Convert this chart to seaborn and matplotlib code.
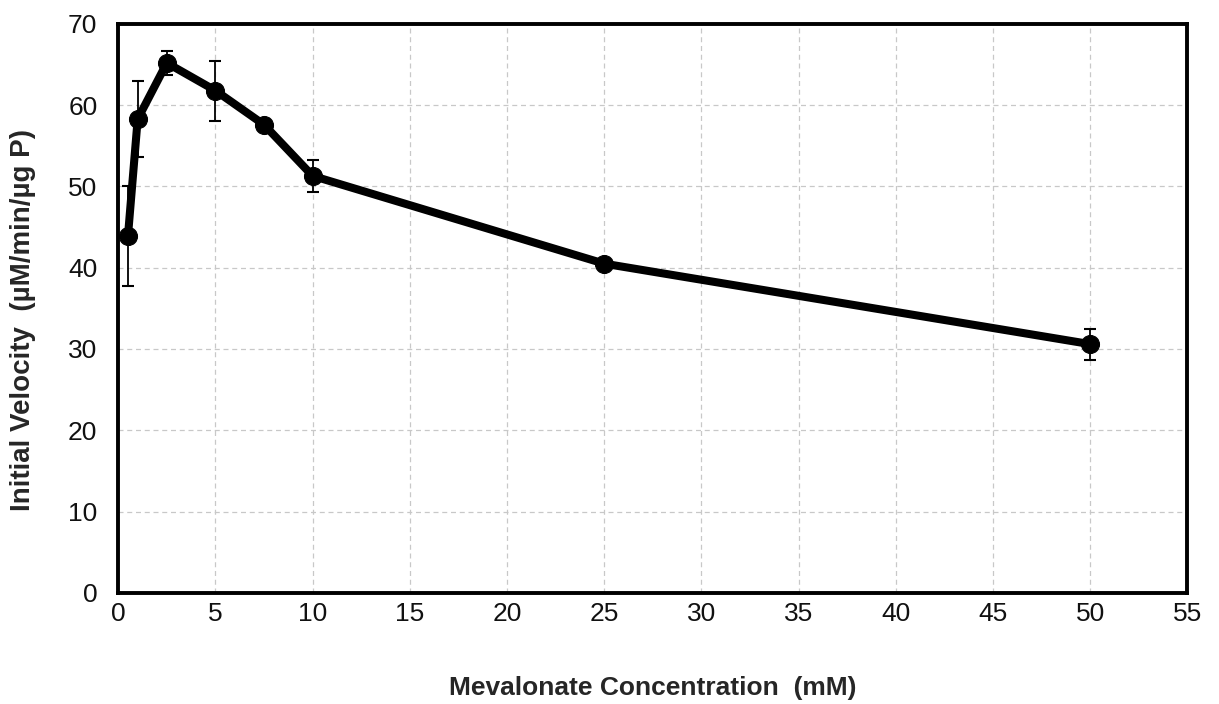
import matplotlib
matplotlib.use("Agg")
import matplotlib.pyplot as plt
import seaborn as sns
import pandas as pd
import numpy as np

conc = [0.5, 1, 2.5, 5, 7.5, 10, 25, 50]
velocity = [43.9, 58.3, 65.2, 61.8, 57.6, 51.3, 40.5, 30.6]
error = [6.1, 4.7, 1.5, 3.7, 0.7, 2.0, 0.4, 1.9]
x_ticks = list(range(0, 60, 5))
y_ticks = list(range(0, 80, 10))

sns.set_theme(style="white")
plt.rcParams['font.family'] = ['Liberation Sans', 'DejaVu Sans']

df = pd.DataFrame({"conc": conc, "vel": velocity, "err": error})

fig = plt.figure(figsize=(12.19, 7.04), dpi=100)
ax = fig.add_axes([0.097, 0.158, 0.877, 0.808])

ax.errorbar(df["conc"], df["vel"], yerr=df["err"], fmt="none", ecolor="black",
            elinewidth=1.3, capsize=4, capthick=1.5, zorder=2)
sns.lineplot(data=df, x="conc", y="vel", ax=ax, color="black", linewidth=5.8,
             marker="o", markersize=13, markeredgecolor="black", zorder=3)

ax.set_xlim(0, 55)
ax.set_ylim(0, 70)
ax.set_xticks(x_ticks)
ax.set_yticks(y_ticks)
ax.grid(True, color="#c8c8c8", linestyle=(0, (4, 3)), linewidth=0.9)
ax.set_axisbelow(True)
for s in ax.spines.values():
    s.set_color("black")
    s.set_linewidth(2.8)
ax.tick_params(axis="both", labelsize=19, colors="#111111", length=5, width=0.8,
               color="#aaaaaa", direction="out")
ax.tick_params(axis="x", pad=2)
ax.tick_params(axis="y", pad=10)
ax.set_xlabel("Mevalonate Concentration  (mM)", fontsize=19, fontweight="bold", labelpad=36)
ax.set_ylabel("Initial Velocity  (µM/min/µg P)", fontsize=20, fontweight="bold")
ax.yaxis.set_label_coords(-0.077, 0.48)

fig.savefig("out.png", dpi=100)
